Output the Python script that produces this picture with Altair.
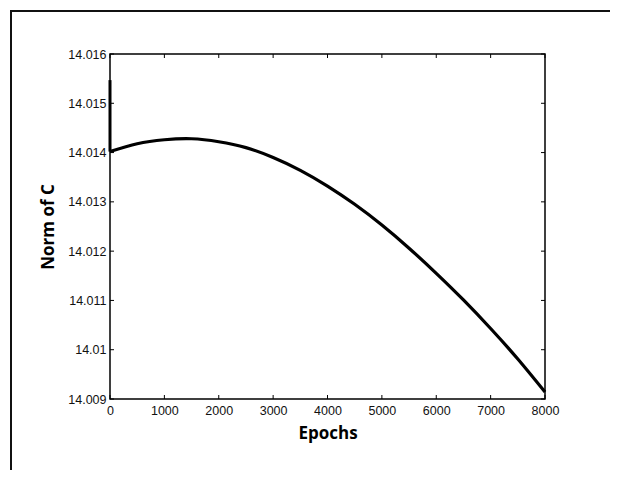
import altair as alt
import pandas as pd

# Data
epochs = [0, 500, 1000, 1500, 2000, 2500, 3000, 3500, 4000, 4500, 5000,
          5500, 6000, 6500, 7000, 7500, 8000]
norms = [14.01402, 14.01418, 14.01426, 14.01428, 14.01422, 14.01410,
         14.01390, 14.01364, 14.01332, 14.01295, 14.01253, 14.01206, 14.01155,
         14.01101, 14.01043, 14.00981, 14.00914]
# initial transient at epoch 0
spike_epochs = [0, 0]
spike_norms = [14.01547, 14.01402]
x_ticks = [0, 1000, 2000, 3000, 4000, 5000, 6000, 7000, 8000]
y_ticks = [14.009, 14.010, 14.011, 14.012, 14.013, 14.014, 14.015, 14.016]

W, H = 435, 345
LABEL_FONT = "Liberation Sans"
TITLE_FONT = "Open Sans"

df = pd.DataFrame({"epoch": epochs, "norm": norms})
sp = pd.DataFrame({"epoch": spike_epochs, "norm": spike_norms})
xt = pd.DataFrame({"epoch": x_ticks})
yt = pd.DataFrame({"norm": y_ticks})
one = pd.DataFrame({"a": [0]})

xscale = alt.Scale(domain=[0, 8000], nice=False, zero=False)
yscale = alt.Scale(domain=[14.009, 14.016], nice=False, zero=False)

xaxis = alt.Axis(values=x_ticks, format="d", ticks=False, domain=False, grid=False,
                 labelFont=LABEL_FONT, labelFontSize=12.5, labelColor="#111111",
                 labelFlush=False, labelOverlap=False, labelBound=False,
                 labelPadding=5, titleFont=TITLE_FONT, titleFontSize=17,
                 titleFontWeight="bold", titleColor="black", titlePadding=9)
yaxis = alt.Axis(values=y_ticks, format=".3~f", ticks=False, domain=False, grid=False,
                 labelFont=LABEL_FONT, labelFontSize=12.5, labelColor="#111111",
                 labelFlush=False, labelOverlap=False, labelBound=False,
                 labelPadding=4, titleFont=TITLE_FONT, titleFontSize=17,
                 titleFontWeight="bold", titleColor="black", titlePadding=10)

X = lambda: alt.X("epoch:Q", scale=xscale, title="Epochs", axis=xaxis)
Y = lambda: alt.Y("norm:Q", scale=yscale, title="Norm of C", axis=yaxis)

line = alt.Chart(df).mark_line(color="black", strokeWidth=3.2, interpolate="natural").encode(
    x=X(), y=Y())
spike = alt.Chart(sp).mark_line(color="black", strokeWidth=3).encode(x=X(), y=Y())

tick_len = 4
bottom_ticks = alt.Chart(xt).mark_rule(color="black", strokeWidth=1).encode(
    x=X(), y=alt.value(H), y2=alt.value(H - tick_len))
top_ticks = alt.Chart(xt).mark_rule(color="black", strokeWidth=1).encode(
    x=X(), y=alt.value(0), y2=alt.value(tick_len))
left_ticks = alt.Chart(yt).mark_rule(color="black", strokeWidth=1).encode(
    y=Y(), x=alt.value(0), x2=alt.value(tick_len))
right_ticks = alt.Chart(yt).mark_rule(color="black", strokeWidth=1).encode(
    y=Y(), x=alt.value(W), x2=alt.value(W - tick_len))

frame_top = alt.Chart(one).mark_rule(color="#111111", strokeWidth=2).encode(
    x=alt.value(-100), x2=alt.value(500), y=alt.value(-43))
frame_left = alt.Chart(one).mark_rule(color="#111111", strokeWidth=2).encode(
    x=alt.value(-99), y=alt.value(-44), y2=alt.value(416))

chart = alt.layer(line, spike, bottom_ticks, top_ticks, left_ticks, right_ticks,
                  frame_top, frame_left).properties(
    width=W, height=H,
    autosize=alt.AutoSizeParams(type="none"),
    padding={"left": 102, "top": 46, "right": 65, "bottom": 71},
    background="white",
).configure_view(stroke="black", strokeWidth=1.5)

chart.save("out.html", embed_options={"renderer": "svg", "actions": False})
